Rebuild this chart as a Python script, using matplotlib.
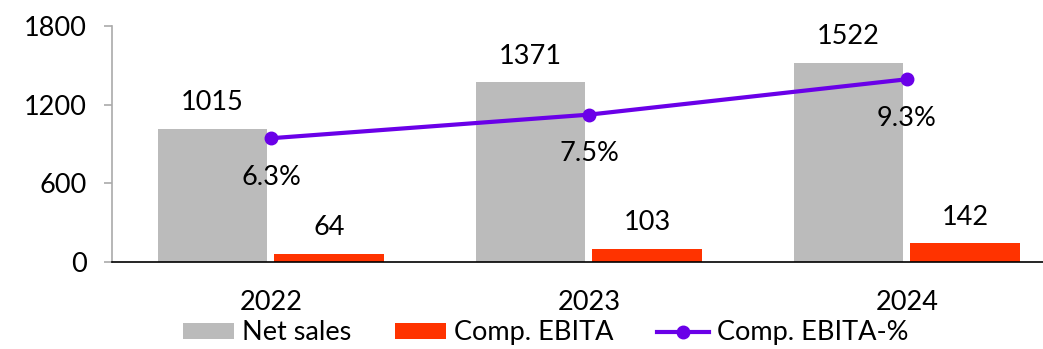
import numpy as np
import matplotlib
matplotlib.use("Agg")
import matplotlib.pyplot as plt

plt.rcParams['font.family'] = ['Lato', 'DejaVu Sans']

years = ['2022', '2023', '2024']
net_sales = [1015, 1371, 1522]
comp_ebita = [64, 103, 142]
ebita_pct = [6.3, 7.5, 9.3]

grey = '#BBBBBB'
orange = '#FF3300'
purple = '#6A00E8'

fig = plt.figure(figsize=(10.43, 3.49), dpi=100)
ax = fig.add_axes([0.1074, 0.249, 0.8926, 0.676])
ax2 = ax.twinx()

x = np.arange(len(years))
w = 0.345
off = 0.1835

b1 = ax.bar(x - off, net_sales, w, color=grey, label='Net sales')
b2 = ax.bar(x + off, comp_ebita, w, color=orange, label='Comp. EBITA')
l1, = ax2.plot(x, ebita_pct, color=purple, lw=3, marker='o', ms=9, label='Comp. EBITA-%')

# etiquetas de valor
for xi, v in zip(x - off, net_sales):
    ax.annotate(str(v), (xi, v), xytext=(0, 19), textcoords='offset points',
                ha='center', va='center', fontsize=19.5)
for xi, v in zip(x + off, comp_ebita):
    ax.annotate(str(v), (xi, v), xytext=(0, 19), textcoords='offset points',
                ha='center', va='center', fontsize=19.5)
for xi, v in zip(x, ebita_pct):
    ax2.annotate(f'{v}%', (xi, v), xytext=(0, -28), textcoords='offset points',
                 ha='center', va='center', fontsize=19.5)

ax.set_ylim(0, 1800)
ax.set_yticks([0, 600, 1200, 1800])
ax2.set_ylim(0, 12)
ax.set_xlim(-0.5, 2.428)
ax.set_xticks(x)
ax.set_xticklabels(years)

for a in (ax, ax2):
    a.spines['top'].set_visible(False)
    a.spines['right'].set_visible(False)
ax2.spines['left'].set_visible(False)
ax2.spines['bottom'].set_visible(False)
ax2.set_yticks([])
ax.spines['left'].set_color('#AAAAAA')
ax.spines['left'].set_linewidth(1.2)
ax.spines['bottom'].set_color('black')
ax.spines['bottom'].set_linewidth(1.2)
ax.tick_params(axis='y', length=6, color='#AAAAAA', width=1.2, labelsize=19.5, pad=12)
ax.tick_params(axis='x', length=0, labelsize=19.5, pad=20)

fig.legend([b1, b2, l1], ['Net sales', 'Comp. EBITA', 'Comp. EBITA-%'],
           loc='center', bbox_to_anchor=(0.523, 0.046), ncol=3, frameon=False,
           fontsize=19.5, handlelength=1.9, handleheight=0.55, handletextpad=0.3,
           columnspacing=1.6, borderaxespad=0)

fig.savefig('out.png', dpi=100)
